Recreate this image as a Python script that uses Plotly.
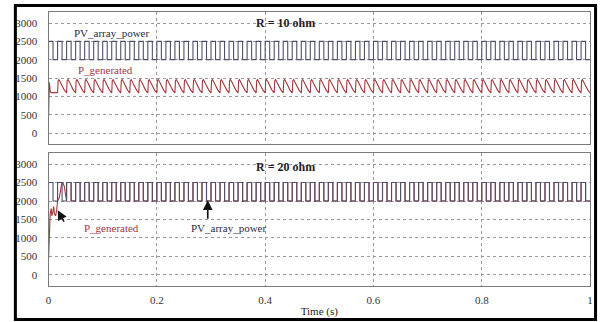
import plotly.graph_objects as go

# ---------------- data ----------------
n_cycles = 60                 # pulses visible between 0 and 1 s
period = 1.0 / n_cycles

# one period of the PV_array_power square wave (phase, W)
sq_phase = [0.0, 0.0, 0.5, 0.5]
sq_vals = [2000, 2500, 2500, 2000]

# one period of P_generated for R = 10 ohm (phase, W)
saw_phase = [0.0, 0.06, 0.15, 0.3, 0.5, 0.75, 1.0]
saw_vals = [1090, 1430, 1460, 1400, 1290, 1170, 1090]

# start-up transient, R = 10 ohm
tr10_t = [0.0, 0.0008, 0.0015, 0.003, 0.0045, 0.0167]
tr10_v = [450, 1250, 1380, 1150, 1100, 1100]

# start-up transient, R = 20 ohm
tr20_t = [0.0, 0.0015, 0.003, 0.005, 0.006, 0.008, 0.0095, 0.011, 0.013, 0.015,
          0.0167, 0.020, 0.024, 0.026, 0.029, 0.0333]
tr20_v = [450, 1500, 1650, 1800, 1600, 1700, 1850, 1650, 1600, 1750,
          2000, 2100, 2450, 2500, 2400, 2000]

pv20_start_t = [0.0, 0.0004]
pv20_start_v = [450, 2000]

x_ticks = [0, 0.2, 0.4, 0.6, 0.8, 1]
x_ticktext = ["0", "0.2", "0.4", "0.6", "0.8", "1"]
y_ticks = [0, 500, 1000, 1500, 2000, 2500, 3000]


def tile(phases, vals, first, last):
    tt, vv = [], []
    for k in range(first, last):
        for p, v in zip(phases, vals):
            tt.append((k + p) * period)
            vv.append(v)
    return tt, vv


pv_t, pv_v = tile(sq_phase, sq_vals, 0, n_cycles)
pv_t.append(1.0); pv_v.append(2000)

saw_t, saw_v = tile(saw_phase, saw_vals, 1, n_cycles)
pg10_t = tr10_t + saw_t
pg10_v = tr10_v + saw_v

sq20_t, sq20_v = tile(sq_phase, sq_vals, 2, n_cycles)
pg20_t = tr20_t + sq20_t + [1.0]
pg20_v = tr20_v + sq20_v + [2000]

pv20_t = pv20_start_t + pv_t
pv20_v = pv20_start_v + pv_v

PV_COLOR = "#50506a"
PG_COLOR = "#a8363a"
FONT = "'Liberation Serif', 'DejaVu Serif', 'Times New Roman', serif"

fig = go.Figure()
fig.add_trace(go.Scatter(x=pv_t, y=pv_v, mode="lines", line=dict(color=PV_COLOR, width=1.1),
                         xaxis="x", yaxis="y", showlegend=False))
fig.add_trace(go.Scatter(x=pg10_t, y=pg10_v, mode="lines", line=dict(color=PG_COLOR, width=1.1),
                         xaxis="x", yaxis="y", showlegend=False))
fig.add_trace(go.Scatter(x=pg20_t, y=pg20_v, mode="lines", line=dict(color=PG_COLOR, width=1.1),
                         xaxis="x2", yaxis="y2", showlegend=False))
fig.add_trace(go.Scatter(x=pv20_t, y=pv20_v, mode="lines", line=dict(color=PV_COLOR, width=1.1),
                         xaxis="x2", yaxis="y2", showlegend=False))

W, H = 604, 322
xdom = [46 / W, 593 / W]
ax_common = dict(range=[0, 1], tickvals=x_ticks, ticktext=x_ticktext, showgrid=True,
                 gridcolor="#999999", griddash="dot", gridwidth=1, zeroline=False,
                 showline=True, mirror=True, linecolor="#7a7a7a", linewidth=1, ticks="",
                 domain=xdom, fixedrange=True)
ay_common = dict(range=[-300, 3300], tickvals=y_ticks, showgrid=True, gridcolor="#999999",
                 griddash="dot", gridwidth=1, zeroline=False, showline=True, mirror=True,
                 linecolor="#7a7a7a", linewidth=1, ticks="", ticklabelstandoff=8,
                 tickfont=dict(family=FONT, size=11, color="#333"), fixedrange=True)

fig.update_layout(
    width=W, height=H, margin=dict(l=0, r=0, t=0, b=0),
    paper_bgcolor="white", plot_bgcolor="white",
    font=dict(family=FONT, size=11, color="#333"),
    xaxis=dict(ax_common, anchor="y", showticklabels=False),
    yaxis=dict(ay_common, anchor="x", domain=[1 - 144 / H, 1 - 12 / H]),
    xaxis2=dict(ax_common, anchor="y2", showticklabels=True, ticklabelstandoff=4,
                tickfont=dict(family=FONT, size=11, color="#333"),
                title=dict(text="Time (s)", standoff=2, font=dict(family=FONT, size=11, color="#222"))),
    yaxis2=dict(ay_common, anchor="x2", domain=[1 - 286 / H, 1 - 153 / H]),
    shapes=[dict(type="rect", xref="paper", yref="paper", x0=12.5 / W, x1=598.5 / W,
                 y0=1 - 319.5 / H, y1=1 - 5.5 / H, line=dict(color="black", width=3))],
    annotations=[
        dict(x=0.4376, y=3000, xref="x", yref="y", text="<b>R = 10 ohm</b>", showarrow=False,
             font=dict(family=FONT, size=12, color="#222")),
        dict(x=0.117, y=2720, xref="x", yref="y", text="PV_array_power", showarrow=False,
             font=dict(family=FONT, size=11, color="#2a2a4a")),
        dict(x=0.105, y=1712, xref="x", yref="y", text="P_generated", showarrow=False,
             font=dict(family=FONT, size=11, color=PG_COLOR)),
        dict(x=0.4376, y=2923, xref="x2", yref="y2", text="<b>R = 20 ohm</b>", showarrow=False,
             font=dict(family=FONT, size=12, color="#222")),
        dict(x=0.117, y=1257, xref="x2", yref="y2", text="P_generated", showarrow=False,
             font=dict(family=FONT, size=11, color=PG_COLOR)),
        dict(x=0.333, y=1257, xref="x2", yref="y2", text="PV_array_power", showarrow=False,
             font=dict(family=FONT, size=11, color="#2a2a4a")),
        dict(x=0.017, y=1750, xref="x2", yref="y2", ax=0.03, ay=1400, axref="x2", ayref="y2",
             text="", showarrow=True, arrowhead=2, arrowsize=1.2, arrowwidth=1.6, arrowcolor="#111"),
        dict(x=0.294, y=2020, xref="x2", yref="y2", ax=0.294, ay=1480, axref="x2", ayref="y2",
             text="", showarrow=True, arrowhead=2, arrowsize=1.2, arrowwidth=1.6, arrowcolor="#111"),
    ],
)

fig.write_html("out.html")
